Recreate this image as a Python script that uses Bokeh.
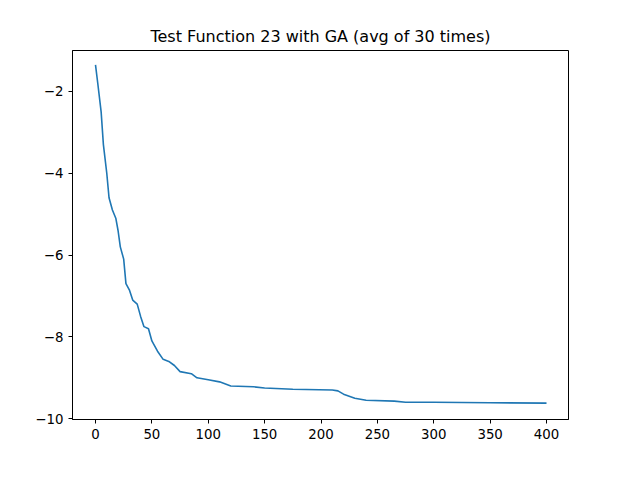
from bokeh.plotting import figure
from bokeh.embed import file_html
from bokeh.resources import INLINE
from bokeh.models import Range1d, FixedTicker

iters = [0,2,5,7,10,12,15,18,20,22,25,27,30,33,37,40,43,47,50,55,60,65,70,75,85,90,100,110,120,140,150,175,210,215,220,230,240,265,275,300,350,400]
fitness = [-1.35,-1.8,-2.5,-3.3,-4.0,-4.6,-4.9,-5.1,-5.4,-5.8,-6.1,-6.7,-6.85,-7.1,-7.2,-7.5,-7.75,-7.8,-8.1,-8.35,-8.55,-8.6,-8.7,-8.85,-8.9,-9.0,-9.05,-9.1,-9.2,-9.22,-9.25,-9.28,-9.3,-9.32,-9.4,-9.5,-9.55,-9.57,-9.6,-9.6,-9.61,-9.62]

p = figure(width=624, height=464, output_backend="svg", toolbar_location=None,
           title="Test Function 23 with GA (avg of 30 times)",
           x_range=Range1d(-20.4, 419.5), y_range=Range1d(-10.02, -1.0),
           min_border_left=72, min_border_right=56, min_border_top=50, min_border_bottom=45)
p.title.align = "center"
p.title.text_font = "DejaVu Sans"
p.title.text_font_style = "normal"
p.title.text_font_size = "12pt"
p.title.text_color = "black"
p.xgrid.visible = False
p.ygrid.visible = False
p.outline_line_color = "black"
p.xaxis.ticker = FixedTicker(ticks=list(range(0, 401, 50)))
p.yaxis.ticker = FixedTicker(ticks=[-10, -8, -6, -4, -2])
for ax in (p.xaxis[0], p.yaxis[0]):
    ax.minor_tick_line_color = None
    ax.major_label_text_font = "DejaVu Sans"
    ax.major_label_text_font_size = "10pt"
    ax.major_label_text_color = "black"
    ax.axis_line_color = "black"
    ax.major_tick_line_color = "black"
    ax.major_tick_out = 4
    ax.major_tick_in = 0
p.line(iters, fitness, line_color="#1f77b4", line_width=1.6)

open("out.html", "w").write(file_html(p, INLINE))
